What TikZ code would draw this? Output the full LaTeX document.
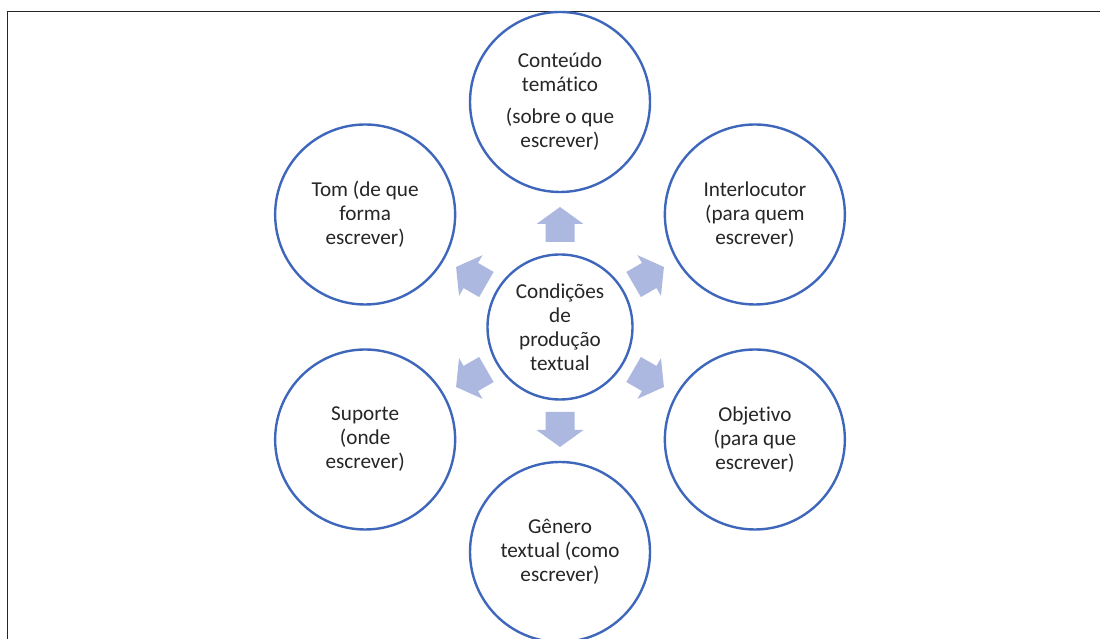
\documentclass[tikz,border=0pt]{standalone}
\usepackage{fontspec}
\setmainfont{Carlito}[Ligatures=NoCommon]
\usetikzlibrary{calc}
\definecolor{ringblue}{RGB}{62,103,188}
\definecolor{arrowfill}{RGB}{172,184,223}
\definecolor{txtgray}{RGB}{38,38,38}
\tikzset{
  ring/.style={circle, draw=ringblue, line width=2.4pt, fill=white,
    text=txtgray, align=center, inner sep=0pt,
    font=\fontsize{21.2}{24}\selectfont},
  outer/.style={ring, minimum size=180pt},
  inner/.style={ring, minimum size=145pt},
  blockarrow/.style={fill=arrowfill, draw=none}
}
\begin{document}
\begin{tikzpicture}[x=1pt, y=1pt]
  \useasboundingbox (0,0) rectangle (1100,639);
  \draw[line width=1.6pt, black!85] (7.5,0) -- (7.5,627.5) -- (1100,627.5);

  \node[inner] (cond) at (560,312) {Condições\\de\\produção\\textual};

  \node[outer] (cont) at ($(cond)+(90:225)$) {Conteúdo\\temático\\[8pt](sobre o que\\escrever)};
  \node[outer] (inter) at ($(cond)+(30:225)$) {Interlocutor\\(para quem\\escrever)};
  \node[outer] (obj) at ($(cond)+(-30:225)$) {Objetivo\\(para que\\escrever)};
  \node[outer] (gen) at ($(cond)+(-90:225)$) {Gênero\\textual (como\\escrever)};
  \node[outer] (sup) at ($(cond)+(210:225)$) {Suporte\\(onde\\escrever)};
  \node[outer] (tom) at ($(cond)+(150:225)$) {Tom (de que\\forma\\escrever)};

  % block arrows from the centre outwards
  \foreach \a in {90,30,-30,-90,210,150} {
    \fill[blockarrow, shift={(cond.center)}, rotate=\a]
      (85,-14.5) -- (103,-14.5) -- (103,-23.5) -- (120,0)
      -- (103,23.5) -- (103,14.5) -- (85,14.5) -- cycle;
  }
\end{tikzpicture}
\end{document}
